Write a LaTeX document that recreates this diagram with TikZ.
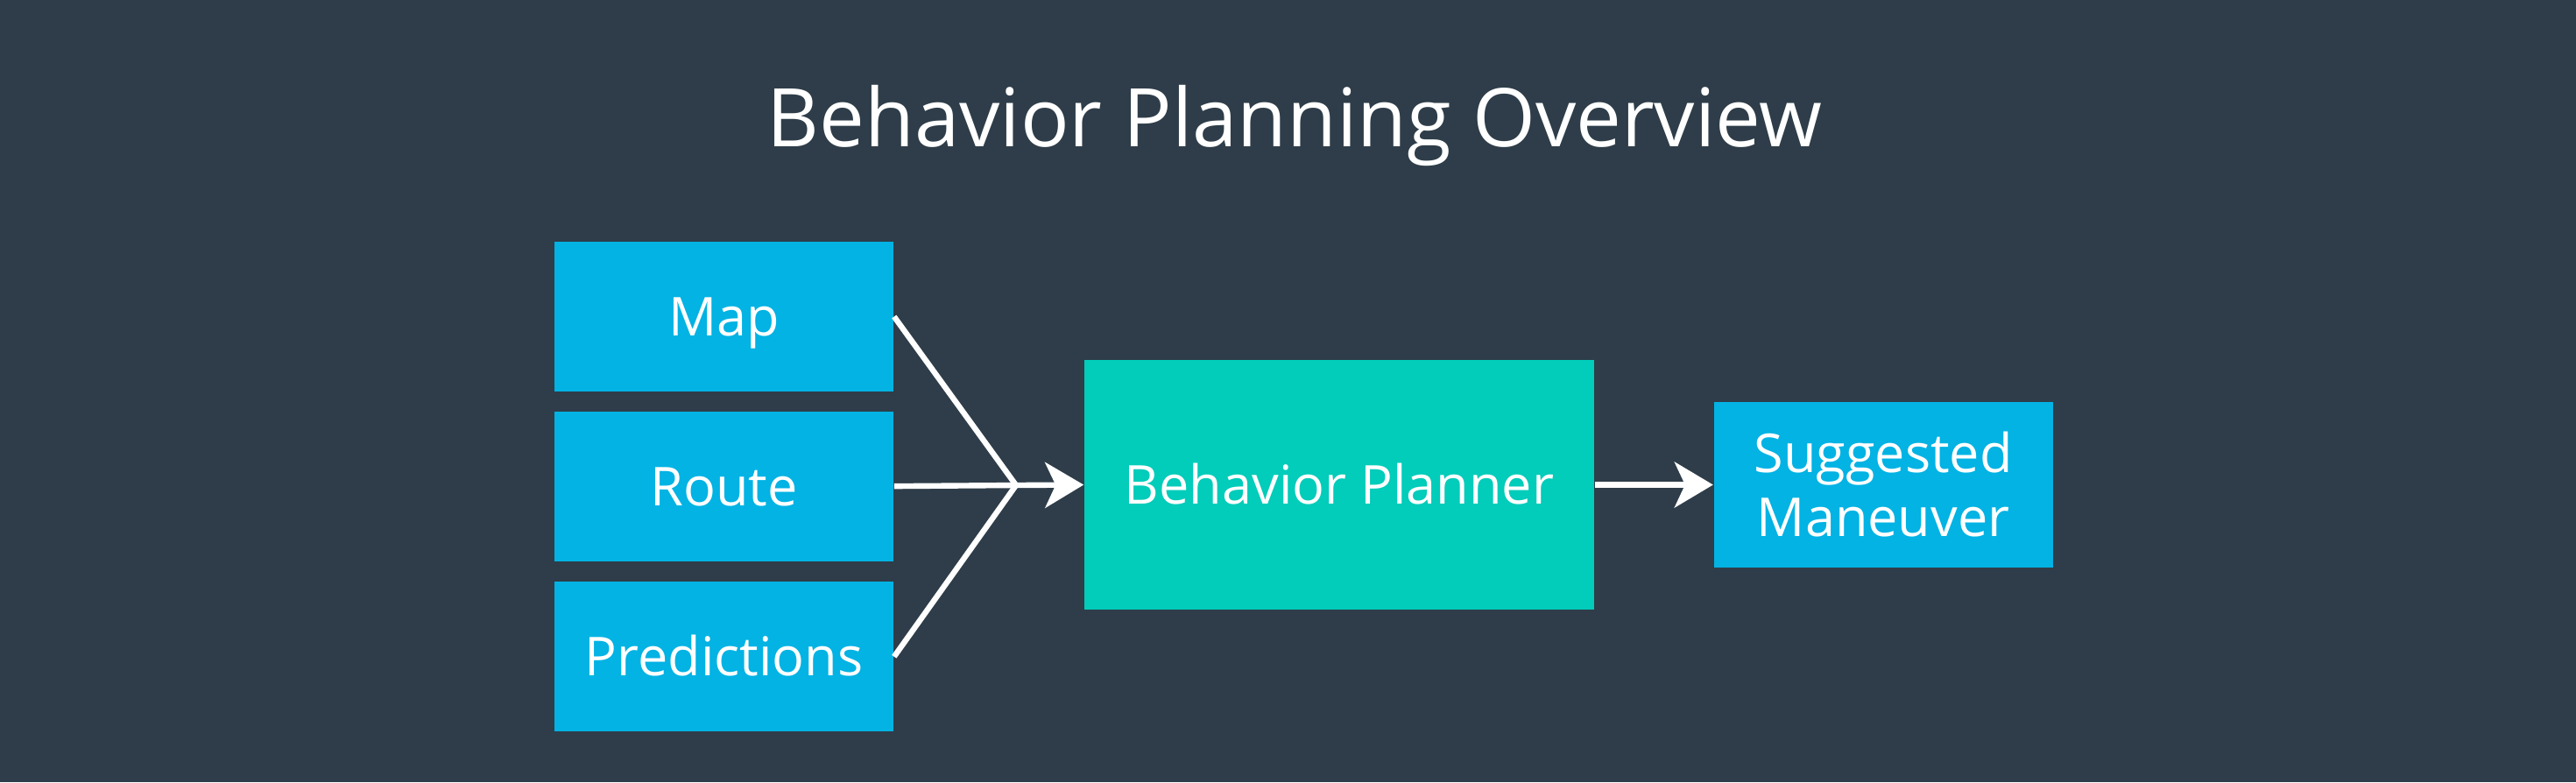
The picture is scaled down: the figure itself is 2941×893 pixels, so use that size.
\documentclass[tikz,border=0pt]{standalone}
\usepackage{fontspec}
\setmainfont{Open Sans}
\usetikzlibrary{arrows.meta,positioning,calc}
\definecolor{bgdark}{HTML}{2E3D49}
\definecolor{boxblue}{HTML}{02B3E4}
\definecolor{boxteal}{HTML}{02CCBA}

\begin{document}
\begin{tikzpicture}[
    x=0.25pt, y=-0.25pt,
    box/.style={fill=boxblue, text=white, minimum width=96.75pt, minimum height=42.75pt, inner sep=0pt, text height=11pt, text depth=0pt, font=\fontsize{15.3}{18.25}\selectfont},
    planner/.style={box, fill=boxteal, minimum width=145.5pt, minimum height=71.25pt},
    wire/.style={white, line width=1.6pt},
    arrow/.style={wire, -{Stealth[length=11pt, width=13pt, inset=3pt]}},
    node distance=5.25pt
  ]
  \fill[bgdark] (0,0) rectangle (2941,893);
  \useasboundingbox (0,0) rectangle (2941,893);

  \node[anchor=base, text=white, font=\fontsize{23.1}{28}\selectfont] (title) at (1478,167) {Behavior Planning Overview};

  \node[box] (map) at (826.5,361.5) {Map};
  \node[box, below=5.25pt of map] (route) {Route};
  \node[box, below=5.5pt of route] (pred) {Predictions};

  \node[planner] (bp) at (1529,553.5) {Behavior Planner};
  \node[box, minimum height=47.25pt, text height=, text depth=, align=center, right=33.75pt of bp] (sm) {Suggested\\Maneuver};

  \coordinate (join) at (1160,554);

  \draw[wire, line join=miter] (map.east) -- (join) -- (pred.east);
  \draw[wire] (route.east) -- (join);
  \draw[arrow] (join) -- (bp.west);
  \draw[arrow] (bp.east) -- (sm.west);
\end{tikzpicture}
\end{document}
